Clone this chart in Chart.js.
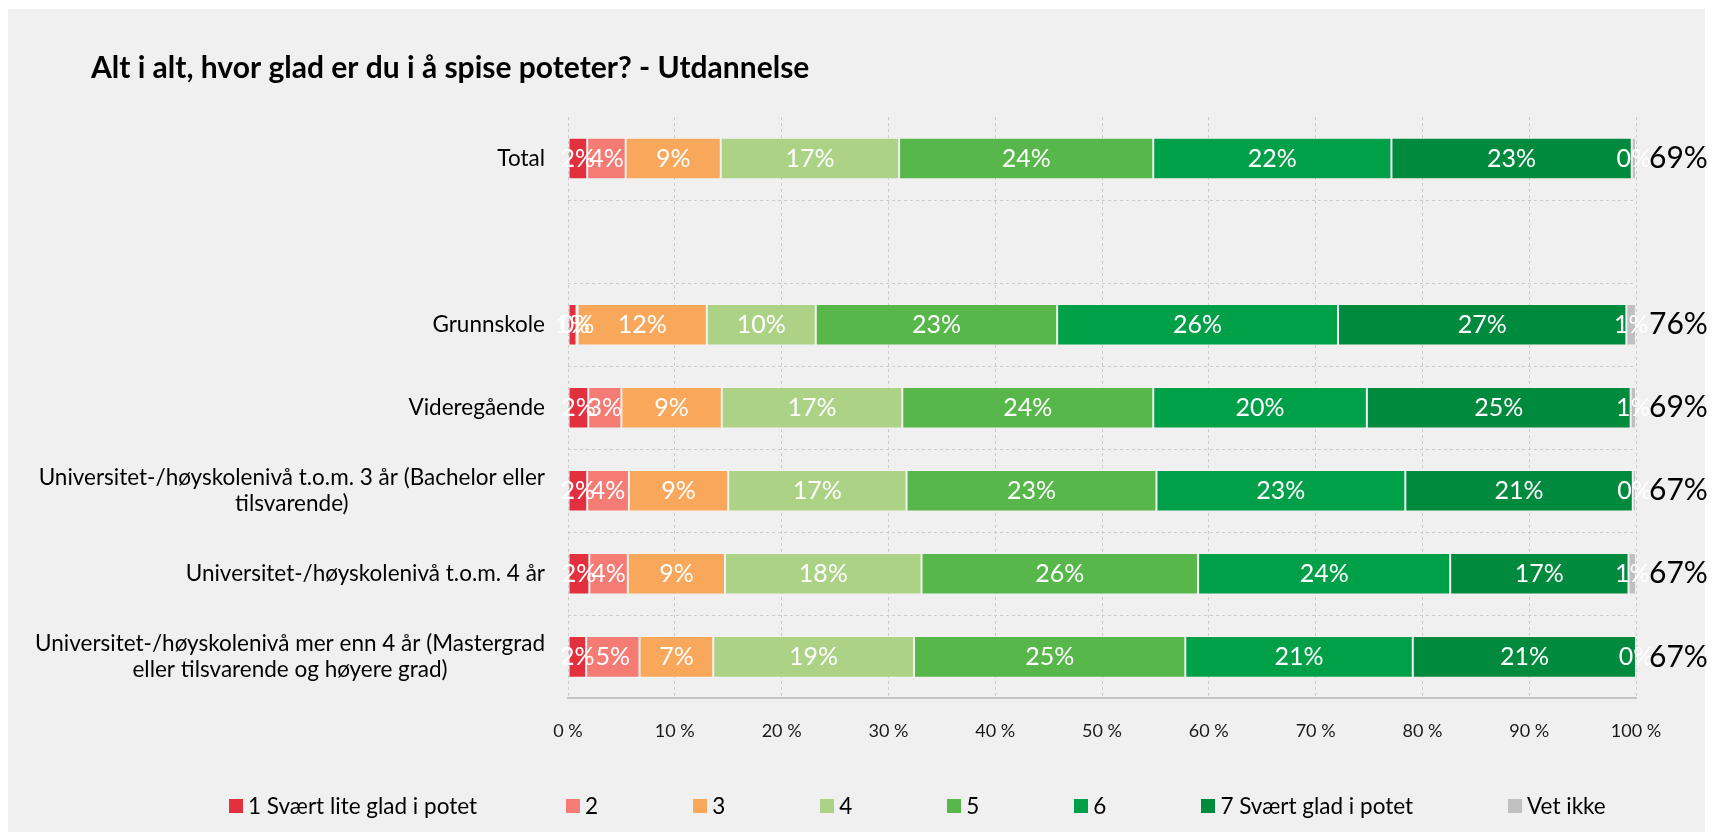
<!DOCTYPE html>
<html>
<head>
<meta charset="utf-8">
<script src="https://cdn.jsdelivr.net/npm/chart.js@4.4.1/dist/chart.umd.min.js"></script>
<style>
  body { margin: 0; background: #fff; font-family: Lato, sans-serif; }
  #wrap { position: relative; width: 1712px; height: 832px; overflow: hidden; }
  #panel { position: absolute; left: 8px; top: 9px; width: 1697px; height: 823px; background: #f0f0f0; }
  #chart { position: absolute; left: 0; top: 0; }
  #legend { position: absolute; left: 229px; top: 792px; display: flex; align-items: center; font-size: 22.5px; line-height: 27px; color: #000; white-space: nowrap; }
  #legend .item { display: flex; align-items: center; margin-right: 95px; }
  #legend .item:first-child { margin-right: 89px; }
  #legend .item:last-child { margin-right: 0; }
  #legend .box { width: 14px; height: 14px; margin-right: 5px; }
</style>
</head>
<body>
<div id="wrap">
  <div id="panel"></div>
  <canvas id="chart" width="1712" height="832"></canvas>
  <div id="legend"></div>
</div>
<script>
// Categories (empty row separates Total from the groups)
const categories = [
    'Total',
    '',
    'Grunnskole',
    'Videregående',
    ['Universitet-/høyskolenivå t.o.m. 3 år (Bachelor eller', 'tilsvarende)'],
    'Universitet-/høyskolenivå t.o.m. 4 år',
    ['Universitet-/høyskolenivå mer enn 4 år (Mastergrad', 'eller tilsvarende og høyere grad)']
];

const seriesNames = ['1 Svært lite glad i potet', '2', '3', '4', '5', '6', '7 Svært glad i potet', 'Vet ikke'];
const seriesColors = ['#e3303e', '#f47c74', '#f9a75a', '#acd385', '#57b74a', '#00a049', '#008a3d', '#c0c0c0'];

// Shares in percent, one value per category
const svaertLite = [1.8, null, 0.8, 1.9, 1.8, 2.0, 1.7];
const to = [3.6, null, 0.1, 3.1, 3.9, 3.6, 5.0];
const tre = [8.9, null, 12.1, 9.4, 9.3, 9.1, 6.9];
const fire = [16.7, null, 10.2, 16.9, 16.7, 18.4, 18.8];
const fem = [23.8, null, 22.6, 23.5, 23.4, 25.9, 25.4];
const seks = [22.3, null, 26.3, 20.0, 23.3, 23.6, 21.3];
const svaertGlad = [22.5, null, 27.0, 24.7, 21.3, 16.7, 20.9];
const vetIkke = [0.4, null, 0.9, 0.5, 0.3, 0.7, 0.0];

// Sum of 5-7 shown to the right of each bar
const topBox = [69, null, 76, 69, 67, 67, 67];

const xTickLabels = ['0 %', '10 %', '20 %', '30 %', '40 %', '50 %', '60 %', '70 %', '80 %', '90 %', '100 %'];

const seriesValues = [svaertLite, to, tre, fire, fem, seks, svaertGlad, vetIkke];

// Labels inside bars, top-box labels and the category labels on the left
const barLabels = {
    id: 'barLabels',
    afterDraw(chart) {
        const ctx = chart.ctx;
        const yScale = chart.scales.y;
        const area = chart.chartArea;
        ctx.save();
        ctx.textBaseline = 'middle';

        ctx.font = '25px Lato';
        ctx.fillStyle = '#fff';
        ctx.textAlign = 'center';
        chart.data.datasets.forEach((ds, di) => {
            chart.getDatasetMeta(di).data.forEach((bar, i) => {
                const v = ds.data[i];
                if (v === null || v === undefined) return;
                const p = bar.getProps(['x', 'y', 'base'], true);
                ctx.fillText(Math.round(v) + '%', (p.x + p.base) / 2, p.y);
            });
        });

        ctx.font = '30px Lato';
        ctx.fillStyle = '#000';
        ctx.textAlign = 'left';
        topBox.forEach((v, i) => {
            if (v === null) return;
            ctx.fillText(v + '%', area.right + 13, yScale.getPixelForValue(i));
        });

        ctx.font = '22.5px Lato';
        const lineH = 26;
        const rightX = area.left - 23;
        categories.forEach((lab, i) => {
            const lines = Array.isArray(lab) ? lab : [lab];
            const w = Math.max(...lines.map(l => ctx.measureText(l).width));
            const y0 = yScale.getPixelForValue(i);
            ctx.textAlign = 'center';
            lines.forEach((l, k) => {
                ctx.fillText(l, rightX - w / 2, y0 + (k - (lines.length - 1) / 2) * lineH);
            });
        });
        ctx.restore();
    }
};

Chart.defaults.font.family = 'Lato';
Chart.defaults.color = '#000';

const ctx = document.getElementById('chart').getContext('2d');
new Chart(ctx, {
    type: 'bar',
    data: {
        labels: categories,
        datasets: seriesNames.map((name, i) => ({
            label: name,
            data: seriesValues[i],
            backgroundColor: seriesColors[i],
            borderColor: 'rgba(255,255,255,0.18)',
            borderWidth: 1,
            borderSkipped: false,
            barPercentage: 0.5,
            categoryPercentage: 1
        }))
    },
    options: {
        indexAxis: 'y',
        responsive: false,
        animation: false,
        layout: { padding: { left: 91, right: 76, top: 0, bottom: 68 } },
        scales: {
            x: {
                stacked: true,
                min: 0,
                max: 100,
                ticks: {
                    stepSize: 10,
                    padding: 22,
                    font: { size: 18 },
                    color: '#1a1a1a',
                    callback: (v, i) => xTickLabels[i]
                },
                grid: { color: '#cbcbcb', drawTicks: false },
                border: { display: true, color: '#c4c4c4', width: 2, dash: [3, 3] }
            },
            y: {
                stacked: true,
                ticks: { display: false },
                grid: {
                    offset: true,
                    drawTicks: false,
                    color: c => c.index === 0 ? 'rgba(0,0,0,0)' : '#cbcbcb'
                },
                border: { display: false, dash: [3, 3] },
                afterFit: scale => { scale.width = 477; }
            }
        },
        plugins: {
            legend: { display: false },
            tooltip: { enabled: false },
            title: {
                display: true,
                text: 'Alt i alt, hvor glad er du i å spise poteter? - Utdannelse',
                align: 'start',
                color: '#000',
                font: { size: 30, weight: 'bold' },
                padding: { top: 50, bottom: 31 }
            }
        }
    },
    plugins: [barLabels]
});

// Legend built from the same series arrays
const legendEl = document.getElementById('legend');
seriesNames.forEach((name, i) => {
    const item = document.createElement('div');
    item.className = 'item';
    const box = document.createElement('span');
    box.className = 'box';
    box.style.background = seriesColors[i];
    const txt = document.createElement('span');
    txt.textContent = name;
    item.appendChild(box);
    item.appendChild(txt);
    legendEl.appendChild(item);
});
</script>
</body>
</html>
